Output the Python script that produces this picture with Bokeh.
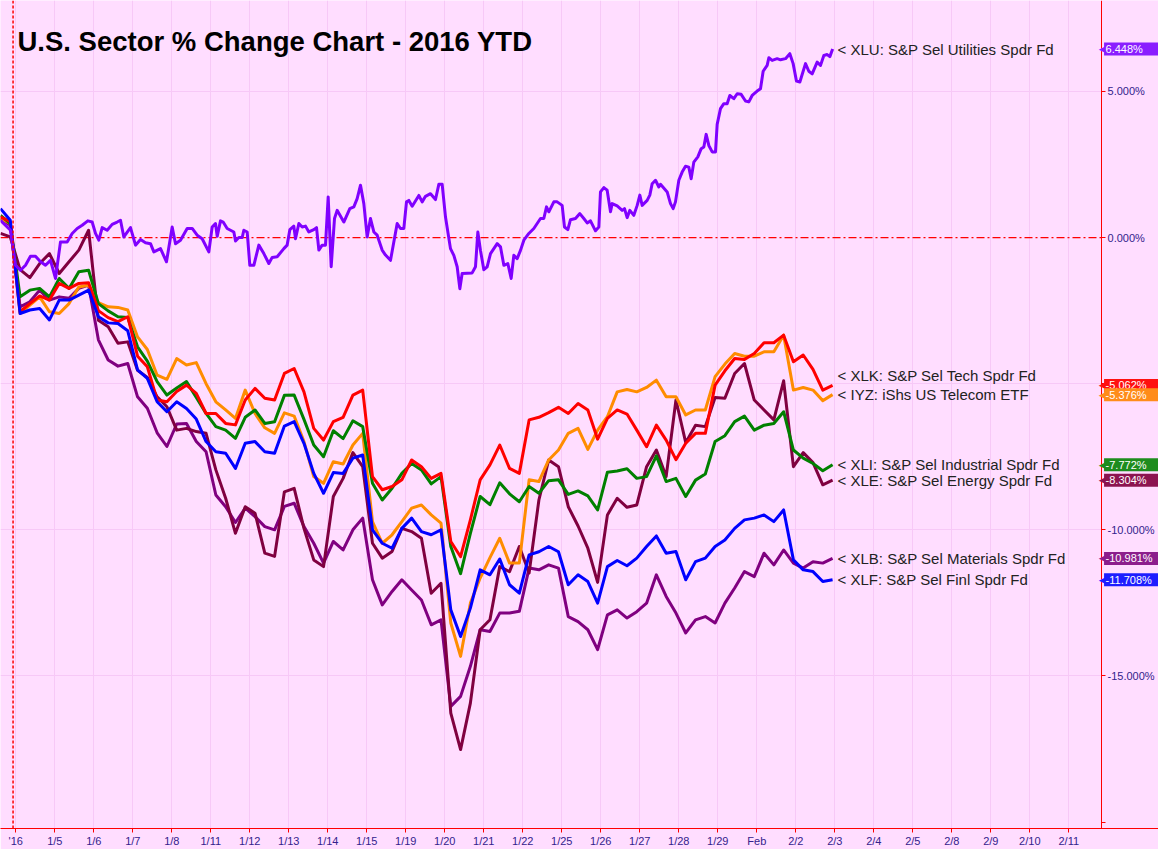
import numpy as np
from bokeh.plotting import figure
from bokeh.models import (ColumnDataSource, Range1d, FixedTicker, Span, Label, LinearAxis,
                          BoxAnnotation)
from bokeh.core.properties import value
from bokeh.embed import file_html
from bokeh.resources import INLINE

title_text = "U.S. Sector % Change Chart - 2016 YTD"
tick_labels = ["'16", "1/5", "1/6", "1/7", "1/8", "1/11", "1/12", "1/13", "1/14", "1/15",
               "1/19", "1/20", "1/21", "1/22", "1/25", "1/26", "1/27", "1/28", "1/29", "Feb",
               "2/2", "2/3", "2/4", "2/5", "2/8", "2/9", "2/10", "2/11"]
y_ticks = [-20, -15, -10, -5, 0, 5]
year_start = -0.07
axis_day = 27.84

# XLU is read at a finer time step (trading-day units, day 0 = Jan 4)
xlu_t = [-0.392, -0.136, -0.007, 0.121, 0.249, 0.377, 0.505, 0.634, 0.762, 0.890,
         1.018, 1.146, 1.317, 1.446, 1.574, 1.702, 1.847, 1.958, 2.044, 2.129,
         2.215, 2.343, 2.471, 2.599, 2.685, 2.770, 2.941, 3.070, 3.198, 3.326,
         3.454, 3.540, 3.711, 3.864, 4.010, 4.095, 4.223, 4.394, 4.523, 4.651,
         4.779, 4.950, 5.035, 5.121, 5.164, 5.249, 5.317, 5.420, 5.591, 5.634,
         5.719, 5.805, 5.847, 5.933, 6.001, 6.104, 6.232, 6.360, 6.488, 6.574,
         6.702, 6.873, 6.958, 7.027, 7.129, 7.172, 7.258, 7.343, 7.429, 7.514,
         7.642, 7.711, 7.771, 7.856, 7.941, 8.010, 8.087, 8.172, 8.240, 8.411,
         8.565, 8.668, 8.753, 8.839, 8.924, 9.010, 9.095, 9.181, 9.266, 9.394,
         9.480, 9.608, 9.779, 9.864, 9.950, 10.018, 10.078, 10.164, 10.335, 10.420,
         10.505, 10.634, 10.762, 10.847, 10.933, 11.018, 11.146, 11.232, 11.317, 11.386,
         11.445, 11.702, 11.787, 11.847, 11.915, 12.001, 12.086, 12.172, 12.343, 12.428,
         12.514, 12.616, 12.702, 12.770, 12.856, 12.941, 13.027, 13.155, 13.283, 13.454,
         13.539, 13.608, 13.668, 13.796, 13.881, 14.009, 14.069, 14.155, 14.223, 14.351,
         14.463, 14.565, 14.651, 14.736, 14.864, 14.950, 14.992, 15.078, 15.163, 15.249,
         15.292, 15.420, 15.548, 15.608, 15.676, 15.745, 15.847, 15.933, 16.001, 16.061,
         16.189, 16.257, 16.317, 16.403, 16.488, 16.531, 16.702, 16.787, 16.856, 16.915,
         17.001, 17.086, 17.172, 17.257, 17.317, 17.385, 17.488, 17.574, 17.642, 17.702,
         17.770, 17.856, 17.941, 17.984, 18.069, 18.155, 18.240, 18.309, 18.411, 18.497,
         18.599, 18.710, 18.796, 18.881, 19.009, 19.095, 19.163, 19.266, 19.309, 19.394,
         19.522, 19.608, 19.736, 19.847, 19.932, 20.018, 20.104, 20.249, 20.334, 20.420,
         20.548, 20.634, 20.719, 20.805, 20.873, 20.945]
xlu = [0.59, 0.25, -0.95, -1.12, -0.95, -0.64, -0.64, -0.83, -0.95, -0.78,
       -1.40, -0.15, -0.15, 0.14, 0.31, 0.42, 0.57, 0.53, 0.14, -0.09,
       0.34, 0.25, 0.45, 0.53, 0.59, 0.02, 0.34, -0.26, -0.07, -0.18,
       -0.21, -0.49, -0.38, -0.83, 0.36, -0.21, -0.09, 0.31, 0.31, 0.08,
       -0.04, -0.49, 0.36, 0.48, 0.04, 0.57, 0.53, 0.31, 0.19, -0.12,
       0.00, 0.00, 0.25, 0.19, -0.95, -0.95, -0.26, -0.55, -0.89, -0.68,
       -0.66, -0.38, -0.26, 0.27, 0.39, -0.04, 0.48, 0.36, 0.39, 0.19,
       0.27, 0.34, -0.43, -0.26, -0.26, 1.39, -1.00, 0.65, 0.93, 0.53,
       0.99, 1.05, 1.33, 1.79, 1.16, 0.02, 0.65, 0.19, 0.08, -0.43,
       -0.60, -0.78, 0.48, 0.31, 0.31, 1.22, 1.27, 1.07, 1.44, 1.22,
       1.41, 1.50, 1.30, 1.82, 1.82, 0.70, -0.38, -0.61, -1.00, -1.75,
       -1.23, -1.21, -1.00, 0.19, -0.44, -1.10, -1.00, -0.55, -0.21, -0.32,
       -0.95, -0.89, -1.40, -0.61, -0.72, -0.44, -0.09, 0.14, 0.31, 0.65,
       0.65, 1.05, 0.88, 1.22, 1.22, 1.10, 0.36, 0.27, 0.61, 0.65,
       0.82, 0.65, 0.50, 0.57, 0.23, 0.36, 1.56, 1.71, 1.62, 0.88,
       1.16, 1.08, 0.93, 0.99, 0.68, 0.93, 0.76, 1.10, 1.45, 1.10,
       1.27, 1.45, 1.84, 1.96, 1.73, 1.82, 1.56, 1.16, 0.99, 1.22,
       1.96, 2.24, 2.44, 2.41, 2.01, 2.58, 2.76, 3.04, 3.10, 3.53,
       3.15, 2.93, 2.93, 3.87, 4.41, 4.58, 4.58, 4.86, 4.75, 4.92,
       4.90, 4.67, 4.64, 4.86, 5.01, 5.09, 5.69, 5.89, 6.15, 6.06,
       6.12, 6.08, 6.12, 6.29, 5.95, 5.35, 5.32, 5.95, 5.69, 5.60,
       6.00, 5.89, 6.23, 6.26, 6.19, 6.448]

# other sectors, % change sampled ~4 times per trading day
xlk = [0.71, 0.54, -2.54, -2.26, -2.00, -2.14, -1.57, -1.74, -1.57, -1.55,
       -2.50, -2.74, -2.88, -2.71, -4.06, -4.42, -5.56, -5.62, -5.27, -5.05,
       -5.33, -6.02, -6.02, -6.36, -6.41, -5.56, -5.16, -5.50, -5.56, -4.65,
       -4.48, -5.28, -6.53, -6.93, -6.30, -6.15, -5.39, -5.22, -8.18, -8.63,
       -8.52, -8.29, -7.61, -7.84, -8.24, -8.07, -10.40, -10.92, -9.66, -8.29,
       -7.78, -7.10, -7.90, -8.07, -6.24, -6.15, -5.99, -5.81, -6.02, -5.68,
       -5.90, -6.90, -6.19, -5.90, -6.04, -6.59, -7.16, -6.42, -6.93, -7.60,
       -7.04, -6.70, -6.70, -5.05, -4.56, -4.14, -4.17, -3.97, -3.60, -3.60,
       -3.34, -4.25, -4.02, -4.51, -5.22, -5.062]
iyz = [0.65, 0.48, -2.60, -2.31, -2.03, -2.54, -2.60, -2.26, -1.69, -1.63,
       -2.23, -2.37, -2.39, -2.48, -3.40, -3.83, -4.71, -4.85, -4.14, -4.36,
       -4.28, -5.00, -5.62, -5.90, -6.19, -5.22, -6.02, -6.51, -6.70, -6.00,
       -6.11, -6.98, -8.18, -8.41, -7.67, -7.75, -7.10, -6.70, -9.72, -10.46,
       -10.17, -9.72, -9.26, -9.15, -9.49, -9.77, -13.19, -14.33, -12.51, -11.65,
       -10.95, -10.29, -11.14, -11.14, -8.29, -8.35, -7.61, -7.27, -6.70, -6.53,
       -7.25, -6.59, -6.13, -5.28, -5.20, -5.28, -5.13, -4.88, -5.45, -5.45,
       -6.07, -5.90, -5.90, -4.76, -4.33, -3.97, -4.06, -4.06, -3.91, -3.91,
       -3.34, -5.22, -5.13, -5.22, -5.58, -5.376]
xli = [0.76, 0.48, -2.03, -1.80, -1.74, -2.03, -1.40, -1.74, -1.17, -1.12,
       -2.26, -2.51, -2.71, -2.74, -3.74, -4.23, -4.93, -5.39, -5.15, -4.93,
       -5.47, -6.02, -6.47, -6.59, -6.87, -6.15, -5.90, -6.36, -6.30, -5.40,
       -5.39, -6.22, -7.10, -7.50, -6.61, -6.88, -6.27, -6.47, -8.41, -8.98,
       -8.58, -8.07, -7.73, -7.95, -8.43, -8.18, -10.57, -11.50, -10.12, -8.86,
       -9.14, -8.39, -8.77, -9.04, -8.52, -8.75, -8.32, -8.29, -8.79, -8.67,
       -8.84, -9.32, -8.03, -7.99, -7.91, -8.24, -8.18, -7.47, -8.35, -8.24,
       -8.86, -8.30, -8.09, -6.98, -6.78, -6.30, -6.11, -6.59, -6.42, -6.36,
       -5.96, -7.27, -7.55, -7.73, -7.98, -7.772]
xle = [0.14, 0.02, -1.10, -1.37, -0.89, -0.55, -1.23, -0.83, -0.43, 0.25,
       -2.83, -3.05, -3.62, -3.57, -4.54, -4.79, -5.45, -5.79, -6.59, -6.53,
       -6.64, -6.70, -7.95, -8.92, -10.12, -9.21, -9.43, -10.80, -10.91, -8.70,
       -8.58, -9.95, -11.03, -11.26, -8.86, -8.24, -7.36, -7.84, -10.46, -10.97,
       -10.74, -9.95, -10.06, -10.29, -12.17, -11.83, -16.27, -17.52, -15.93, -13.42,
       -13.08, -11.26, -11.43, -10.57, -11.48, -8.98, -7.61, -7.84, -9.21, -9.87,
       -10.63, -11.80, -9.49, -8.92, -9.23, -9.15, -7.84, -7.27, -8.18, -5.56,
       -7.02, -6.42, -6.47, -5.47, -5.50, -4.65, -4.31, -5.56, -5.90, -6.24,
       -4.90, -7.84, -7.36, -7.70, -8.46, -8.304]
xlb = [0.65, 0.42, -2.37, -2.20, -1.80, -2.14, -2.03, -2.08, -1.74, -1.63,
       -3.50, -4.19, -4.40, -4.31, -5.45, -5.84, -6.68, -7.15, -6.38, -6.36,
       -6.98, -7.33, -8.81, -9.21, -9.75, -9.26, -9.55, -9.89, -10.00, -9.20,
       -9.09, -9.89, -10.46, -11.14, -10.40, -10.69, -10.00, -9.60, -11.71, -12.57,
       -12.11, -11.71, -12.06, -12.40, -13.25, -13.08, -16.04, -15.70, -14.67, -13.42,
       -13.48, -12.85, -12.85, -12.79, -11.31, -11.37, -11.20, -11.31, -12.97, -13.14,
       -13.42, -14.10, -12.91, -12.74, -13.02, -12.80, -12.51, -11.54, -12.28, -12.85,
       -13.53, -13.08, -12.97, -13.19, -12.51, -11.99, -11.43, -11.60, -10.80, -11.20,
       -10.69, -11.14, -11.31, -11.09, -11.14, -10.981]
xlf = [0.99, 0.59, -2.60, -2.48, -2.43, -2.82, -2.14, -2.14, -1.97, -1.80,
       -2.71, -2.92, -2.94, -3.19, -4.53, -4.82, -5.62, -5.96, -5.62, -5.85,
       -6.21, -6.98, -7.33, -7.38, -7.90, -7.04, -6.98, -7.33, -7.38, -6.45,
       -6.30, -7.04, -8.07, -8.75, -8.04, -8.07, -7.55, -7.44, -10.00, -10.46,
       -10.63, -9.95, -9.60, -10.06, -10.17, -10.00, -12.74, -13.65, -12.68, -11.37,
       -11.54, -11.00, -11.88, -12.17, -10.86, -10.75, -10.57, -10.75, -11.88, -11.54,
       -11.77, -12.51, -11.26, -11.05, -11.23, -10.97, -10.57, -10.21, -10.80, -10.74,
       -11.71, -11.09, -10.97, -10.57, -10.35, -9.95, -9.66, -9.60, -9.49, -9.72,
       -9.32, -11.03, -11.37, -11.43, -11.77, -11.708]

n = len(xlk)
t = -0.392 + 0.251 * np.arange(n)

series = [
    ("XLB", "S&P Sel Materials Spdr Fd", t, xlb, "#800080"),
    ("XLE", "S&P Sel Energy Spdr Fd", t, xle, "#800040"),
    ("IYZ", "iShs US Telecom ETF", t, iyz, "#FF8C00"),
    ("XLI", "S&P Sel Industrial Spdr Fd", t, xli, "#008000"),
    ("XLK", "S&P Sel Tech Spdr Fd", t, xlk, "#FF0000"),
    ("XLF", "S&P Sel Finl Spdr Fd", t, xlf, "#0000FF"),
    ("XLU", "S&P Sel Utilities Spdr Fd", xlu_t, xlu, "#8000FF"),
]
label_order = ["XLU", "XLK", "IYZ", "XLI", "XLE", "XLB", "XLF"]
box_colors = {"XLU": "#8A1EFF", "XLK": "#FF1010", "IYZ": "#FF8C1A", "XLI": "#1E8C1E",
              "XLE": "#8C1450", "XLB": "#8C1E8C", "XLF": "#1E1EFF"}

BG = "#FFDDFF"
GRID = "#F7C8F7"
AXC = "#FF0000"
TXT = "#33228C"
W, H = 1158, 849
BOTTOM = 20
x0, x1 = -0.392, 29.30
y0, y1 = -20.22, 8.11
px_day = W / (x1 - x0)
px_pct = (H - BOTTOM) / (y1 - y0)

p = figure(width=W, height=H, x_range=Range1d(x0, x1), y_range=Range1d(y0, y1),
           y_axis_location=None, output_backend="svg", toolbar_location=None)
p.min_border_left = 0
p.min_border_top = 0
p.min_border_right = 0
p.min_border_bottom = BOTTOM
p.outline_line_color = None
p.background_fill_color = BG
p.border_fill_color = BG

yax = LinearAxis(fixed_location=axis_day, ticker=FixedTicker(ticks=y_ticks))
p.add_layout(yax, "right")
yax.major_label_overrides = {v: ("" if v == -20 else f"{v:.3f}%") for v in y_ticks}

p.xaxis.ticker = FixedTicker(ticks=list(range(len(tick_labels))))
p.xaxis.major_label_overrides = {i: s for i, s in enumerate(tick_labels)}
for ax in (p.xaxis[0], yax):
    ax.axis_line_color = AXC
    ax.major_tick_line_color = AXC
    ax.major_tick_out = 4
    ax.major_tick_in = 0
    ax.minor_tick_line_color = None
    ax.major_label_text_color = TXT
    ax.major_label_text_font = "Liberation Sans"
    ax.major_label_text_font_size = "11px"
    ax.major_label_standoff = 2
p.xgrid.grid_line_color = GRID
p.ygrid.grid_line_color = GRID
p.ygrid.ticker = FixedTicker(ticks=[-15, -10, -5, 5])

p.add_layout(Span(location=0, dimension="width", line_color=AXC, line_width=1.2,
                  line_dash="8 3 2 3", level="underlay"))
p.add_layout(BoxAnnotation(left=axis_day, fill_color=BG, fill_alpha=1.0, line_color=None,
                           level="underlay"))
p.add_layout(Span(location=year_start, dimension="height", line_color=AXC, line_width=1.5,
                  line_dash="3 2"))

for sym, desc, tx, vals, col in series:
    p.line(tx, vals, line_color=col, line_width=3, line_join="round")

lookup = {s[0]: s for s in series}
end_t = t[-1]
lab_src = ColumnDataSource(dict(
    x=[end_t] * len(label_order),
    y=[lookup[s][3][-1] for s in label_order],
    text=[f"< {s}: {lookup[s][1]}" for s in label_order],
    yoff=[-10 if s == "XLK" else 0 for s in label_order],
))
p.text(x="x", y="y", text="text", source=lab_src, x_offset=5, y_offset="yoff",
       text_font=value("Liberation Sans"), text_font_size="15px", text_color="#222222",
       text_baseline="middle", text_align="left")

half = 6.5 / px_pct
for s in label_order:
    sym, desc, tx, vals, col = lookup[s]
    bc = box_colors[s]
    v = vals[-1]
    p.add_layout(BoxAnnotation(left=axis_day + 2.5 / px_day, bottom=v - half, top=v + half,
                               fill_color=bc, fill_alpha=1.0, line_color=None))
    p.add_layout(Label(x=axis_day, y=v, x_offset=4, text="\u25C0", text_color=bc,
                       text_font="DejaVu Sans", text_font_size="9px", text_baseline="middle",
                       text_align="right"))
    p.add_layout(Label(x=axis_day, y=v, x_offset=4, text=f"{v:.3f}%", text_color="white",
                       text_font="Liberation Sans", text_font_size="11px",
                       text_baseline="middle", text_align="left"))

p.add_layout(Label(x=17, y=(H - BOTTOM) - 41.7, x_units="screen", y_units="screen",
                   text=title_text, text_font="Liberation Sans", text_font_size="27.5px",
                   text_font_style="bold", text_color="black", text_baseline="alphabetic"))

open("out.html", "w").write(file_html(p, INLINE))
